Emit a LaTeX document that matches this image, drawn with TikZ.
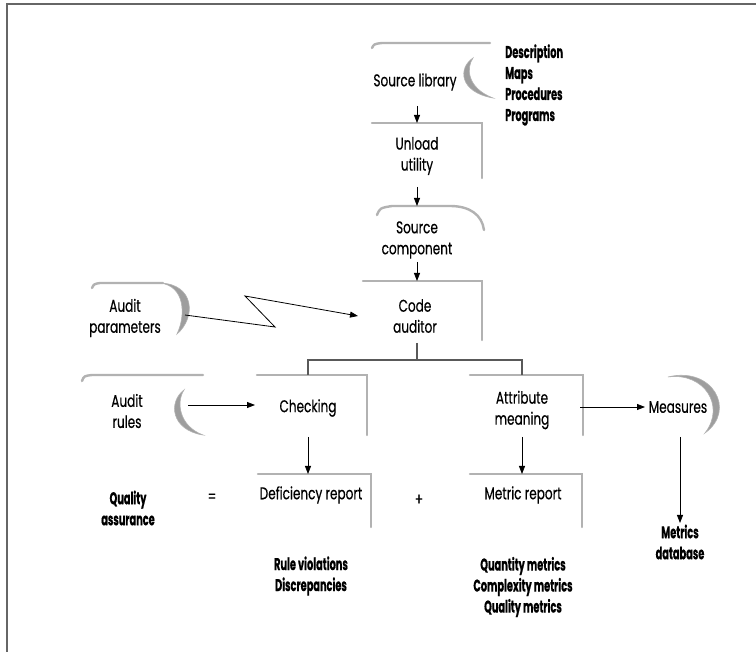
\documentclass[tikz,border=0pt]{standalone}
\usepackage{fontspec}
\setmainfont[FakeStretch=0.71,FakeBold=0.4]{Poppins}
\newfontfamily\boldf[FakeStretch=0.575,FakeBold=0.5]{Poppins}
\usetikzlibrary{arrows.meta}
\begin{document}
\begin{tikzpicture}[x=1pt,y=-1pt,
  shp/.style={draw=black!30, line width=2.4pt, line cap=round},
  cres/.style={fill=black!38, draw=black!30, line width=0.6pt},
  con/.style={draw=black, line width=0.8pt, -{Triangle[length=8pt,width=6pt]}},
  treeline/.style={draw=black!65, line width=1.2pt},
  framel/.style={draw=black!60, line width=1.3pt},
  lab/.style={font=\fontsize{17}{21}\selectfont, align=center, inner sep=0pt},
  blab/.style={font=\boldf\fontsize{17}{21}\selectfont\bfseries, align=center, inner sep=0pt},
]
\useasboundingbox (0,0) rectangle (756,652);
\fill[white] (0,0) rectangle (756,652);
% frame
\draw[framel] (7,652) -- (7,4) -- (756,4);

% shapes
% source library
\draw[shp] (372,48) .. controls (374,44) .. (382,43) -- (490,43);
\filldraw[cres] (473,58) .. controls (458,68) and (459,92) .. (493,98)
   .. controls (467,88) and (466,68) .. cycle;
% unload utility
\draw[shp] (372,123) -- (482,123) -- (482,178);
% source component
\draw[shp] (377,215) .. controls (380,208) .. (392,206) -- (450,206) .. controls (470,206) and (482,215) .. (484,230);
% code auditor
\draw[shp] (363,281) -- (482,281) -- (482,340);
% audit parameters
\draw[shp] (92,288) .. controls (94,284) .. (100,283) -- (163,283);
\filldraw[cres] (160,283) .. controls (195,284) and (196,318) .. (177,334)
   .. controls (186,315) and (185,286) .. cycle;
% audit rules
\draw[shp] (82,381) .. controls (84,376) .. (92,375) -- (203,375);
\filldraw[cres] (184,390) .. controls (168,402) and (171,430) .. (203,435)
   .. controls (179,426) and (176,402) .. cycle;
% checking, attribute meaning
\draw[shp] (257,375) -- (367,375) -- (367,435);
\draw[shp] (470,375) -- (583,375) -- (583,435);
% measures
\filldraw[cres] (668,377) .. controls (712,366) and (737,410) .. (705,433)
   .. controls (726,406) and (704,372) .. cycle;
% reports
\draw[shp] (258,474) -- (371,474) -- (371,527);
\draw[shp] (470,474) -- (582,474) -- (582,527);

% labels
\node[lab] (srclib) at (415,82) {Source library};
\node[blab, anchor=west, align=left] (desc) at (505,85) {Description\\Maps\\Procedures\\Programs};
\node[lab] (unload) at (417,156) {Unload\\utility};
\node[lab] (srccomp) at (417,240) {Source\\component};
\node[lab] (code) at (415,316) {Code\\auditor};
\node[lab] (auditp) at (125,318) {Audit\\parameters};
\node[lab] (auditr) at (127,411) {Audit\\rules};
\node[lab] (check) at (308,408) {Checking};
\node[lab] (attr) at (522,410) {Attribute\\meaning};
\node[lab] (meas) at (678,407) {Measures};
\node[blab] (qa) at (128,508) {Quality\\assurance};
\node[lab] (eq) at (212,498) {=};
\node[lab] (defrep) at (311,495) {Deficiency report};
\node[lab] (plus) at (419,500) {+};
\node[lab] (metrep) at (523,495) {Metric report};
\node[blab] (rv) at (311,576) {Rule violations\\Discrepancies};
\node[blab] (qm) at (523,587) {Quantity metrics\\Complexity metrics\\Quality metrics};
\node[blab] (mdb) at (680,542) {Metrics\\database};

% connector end points
\coordinate (libB) at (417,106); \coordinate (unlT) at (417,123);
\coordinate (unlB) at (417,187); \coordinate (scT) at (417,206);
\coordinate (scB) at (417,262);  \coordinate (caT) at (417,281);
\coordinate (caB) at (417,343);  \coordinate (fork) at (417,360);
\coordinate (forkL) at (308,360); \coordinate (forkR) at (522,360);
\coordinate (chT) at (308,375);  \coordinate (atT) at (522,375);
\coordinate (arR) at (188,405);  \coordinate (chL) at (255,405);
\coordinate (chB) at (308,437);  \coordinate (drT) at (308,474);
\coordinate (atR) at (580,407);  \coordinate (msL) at (645,407);
\coordinate (atB) at (522,437);  \coordinate (mrT) at (522,474);
\coordinate (msB) at (680,437);  \coordinate (mdT) at (680,523);
\coordinate (apR) at (185,315);  \coordinate (z1) at (275,327);
\coordinate (z2) at (245,296);   \coordinate (caL) at (358,316);

\draw[con] (libB) -- (unlT);
\draw[con] (unlB) -- (scT);
\draw[con] (scB) -- (caT);
\draw[treeline] (caB) -- (fork);
\draw[treeline] (chT) -- (forkL) -- (forkR) -- (atT);
\draw[con] (arR) -- (chL);
\draw[con] (chB) -- (drT);
\draw[con] (atR) -- (msL);
\draw[con] (atB) -- (mrT);
\draw[con] (msB) -- (mdT);
\draw[con] (apR) -- (z1) -- (z2) -- (caL);
\end{tikzpicture}
\end{document}
